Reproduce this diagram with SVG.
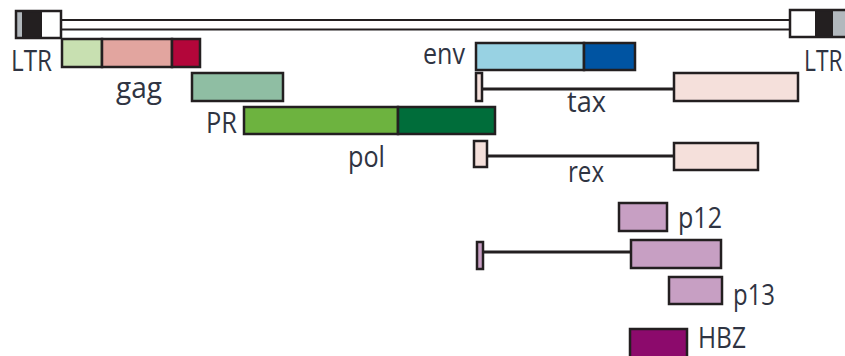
<svg xmlns="http://www.w3.org/2000/svg" width="845" height="356" viewBox="0 0 845 356">
<style>
.b{stroke:#231f20;stroke-width:2.5}
.t{font-family:"Open Sans","Liberation Sans",sans-serif;font-size:30px;fill:#2f3442}
.c{stroke:#231f20;stroke-width:3.2;fill:none}
</style>
<rect width="845" height="356" fill="#fff"/>
<g id="genome">
<rect x="61" y="20" width="729" height="9.5" fill="#fff" stroke="#231f20" stroke-width="2"/>
</g>
<g id="ltr-left">
<rect x="16" y="11" width="6" height="27" fill="#b2b8bd"/>
<rect x="22" y="11" width="20" height="27" fill="#231f20"/>
<rect x="42" y="11" width="19" height="27" fill="#fff"/>
<rect x="16" y="11" width="45" height="27" fill="none" class="b"/>
<text class="t" x="11" y="71" textLength="41" lengthAdjust="spacingAndGlyphs">LTR</text>
</g>
<g id="ltr-right">
<rect x="790" y="10" width="25" height="27" fill="#fff"/>
<rect x="815" y="10" width="18" height="27" fill="#231f20"/>
<rect x="833" y="10" width="17" height="27" fill="#b2b8bd"/>
<rect x="790" y="10" width="60" height="27" fill="none" class="b"/>
<text class="t" transform="translate(804,71) scale(0.76,1)" x="0" y="0">LTR</text>
</g>
<g id="gag">
<rect x="62" y="39" width="40" height="28" fill="#c8e0b1" class="b"/>
<rect x="102" y="39" width="70" height="28" fill="#e2a59f" class="b"/>
<rect x="172" y="39" width="28" height="28" fill="#b3063a" class="b"/>
<text class="t" x="116" y="98" textLength="46" lengthAdjust="spacingAndGlyphs">gag</text>
</g>
<g id="pr">
<rect x="192" y="73" width="91" height="28" fill="#8fbea3" class="b"/>
<text class="t" x="206" y="133" textLength="31" lengthAdjust="spacingAndGlyphs">PR</text>
</g>
<g id="pol">
<rect x="244" y="107" width="154" height="27" fill="#6db33f" class="b"/>
<rect x="398" y="107" width="97" height="27" fill="#006d3a" class="b"/>
<text class="t" x="348" y="167" textLength="37" lengthAdjust="spacingAndGlyphs">pol</text>
</g>
<g id="env">
<rect x="476" y="43" width="108" height="27" fill="#98d2e3" class="b"/>
<rect x="584" y="43" width="51" height="27" fill="#0054a2" class="b"/>
<text class="t" x="423" y="64" textLength="42" lengthAdjust="spacingAndGlyphs">env</text>
</g>
<g id="tax">
<rect x="476" y="73" width="6" height="28" fill="#f5e0db" class="b"/>
<rect x="674" y="73" width="124" height="28" fill="#f5e0db" class="b"/>
<text class="t" x="567" y="112" textLength="39" lengthAdjust="spacingAndGlyphs">tax</text>
</g>
<g id="rex">
<rect x="474" y="141" width="13" height="26" fill="#f5e0db" class="b"/>
<rect x="674" y="143" width="84" height="27" fill="#f5e0db" class="b"/>
<text class="t" x="568" y="182" textLength="36" lengthAdjust="spacingAndGlyphs">rex</text>
</g>
<g id="p12">
<rect x="619" y="203" width="48" height="28" fill="#c79fc3" class="b"/>
<text class="t" x="678" y="228" textLength="44" lengthAdjust="spacingAndGlyphs">p12</text>
</g>
<g id="p30">
<rect x="477" y="242" width="6" height="27" fill="#c79fc3" class="b"/>
<rect x="631" y="240" width="90" height="28" fill="#c79fc3" class="b"/>
</g>
<g id="p13">
<rect x="669" y="277" width="53" height="27" fill="#c79fc3" class="b"/>
<text class="t" x="733" y="305" textLength="42" lengthAdjust="spacingAndGlyphs">p13</text>
</g>
<g id="hbz">
<rect x="630" y="329" width="57" height="29" fill="#8c0a6c" class="b"/>
<text class="t" x="698" y="348" font-size="29" textLength="48" lengthAdjust="spacingAndGlyphs">HBZ</text>
</g>
<g id="connectors">
<line class="c" x1="482" y1="89" x2="674" y2="89"/>
<line class="c" x1="487" y1="156" x2="674" y2="156"/>
<line class="c" x1="483" y1="252" x2="631" y2="252"/>
</g>
</svg>
